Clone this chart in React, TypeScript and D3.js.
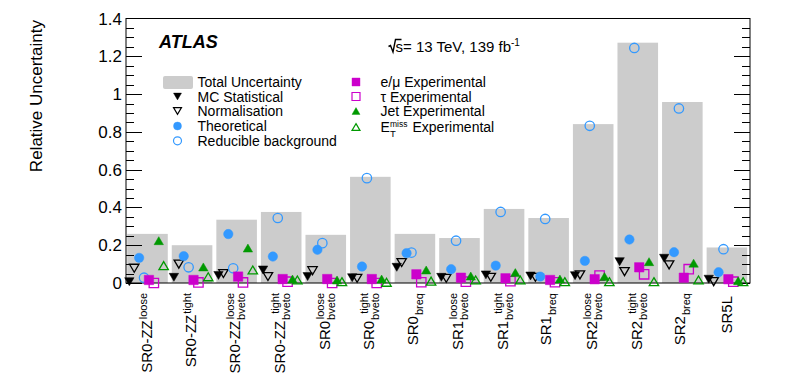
import * as d3 from "d3";
import { useEffect, useRef } from "react";

// signal regions
const labelMain = ["SR0-ZZ", "SR0-ZZ", "SR0-ZZ", "SR0-ZZ", "SR0", "SR0", "SR0", "SR1", "SR1", "SR1", "SR2", "SR2", "SR2", "SR5L"];
const labelSup = ["loose", "tight", "loose", "tight", "loose", "tight", "", "loose", "tight", "", "loose", "tight", "", ""];
const labelSub = ["", "", "bveto", "bveto", "bveto", "bveto", "breq", "bveto", "bveto", "breq", "bveto", "bveto", "breq", ""];

// relative uncertainties per region
const totalUnc = [0.26, 0.2, 0.335, 0.376, 0.255, 0.562, 0.26, 0.238, 0.392, 0.344, 0.841, 1.272, 0.958, 0.188];
const mcStat = [0.007, 0.03, 0.04, 0.069, 0.034, 0.028, 0.083, 0.03, 0.043, 0.037, 0.039, 0.113, 0.131, 0.02];
const normalisation = [0.078, 0.1, 0.05, 0.034, 0.065, 0.025, 0.108, 0.025, 0.03, 0.03, 0.043, 0.06, 0.096, 0.007];
const theoretical = [0.133, 0.142, 0.259, 0.14, 0.176, 0.087, 0.158, 0.073, 0.092, 0.034, 0.117, 0.23, 0.163, 0.057];
const reducible = [0.028, 0.083, 0.078, 0.344, 0.211, 0.555, 0.161, 0.224, 0.376, 0.339, 0.832, 1.244, 0.924, 0.179];
const eMuExp = [0.016, 0.016, 0.034, 0.021, 0.021, 0.021, 0.046, 0.028, 0.025, 0.016, 0.02, 0.083, 0.028, 0.02];
const tauExp = [0.0, 0.003, 0.003, 0.007, 0.0, 0.0, 0.004, 0.007, 0.01, 0.004, 0.039, 0.046, 0.073, 0.007];
const jetExp = [0.224, 0.085, 0.185, 0.021, 0.016, 0.021, 0.069, 0.037, 0.055, 0.021, 0.034, 0.113, 0.105, 0.012];
const metExp = [0.092, 0.033, 0.069, 0.016, 0.007, 0.004, 0.01, 0.016, 0.016, 0.007, 0.007, 0.007, 0.016, 0.007];

const yTicks = [0, 0.2, 0.4, 0.6, 0.8, 1, 1.2, 1.4];

const BLUE = "#3399ff";
const MAGENTA = "#cc00cc";
const GREEN = "#009900";
const FONT = "'Liberation Sans', Arial, Helvetica, sans-serif";

// marker path, centered at 0,0
const markerPath = (shape) => {
  const s = 4.7;
  if (shape === "down") return `M${-s},${-s * 0.85}L${s},${-s * 0.85}L0,${s * 0.85}Z`;
  if (shape === "up") return `M0,${-s * 0.85}L${s},${s * 0.85}L${-s},${s * 0.85}Z`;
  if (shape === "square") return `M${-s},${-s}H${s}V${s}H${-s}Z`;
  return d3.arc()({ innerRadius: 0, outerRadius: s, startAngle: 0, endAngle: 2 * Math.PI });
};

const series = [
  { name: "MC Statistical", values: mcStat, shape: "down", color: "#000", filled: true },
  { name: "Normalisation", values: normalisation, shape: "down", color: "#000", filled: false },
  { name: "Theoretical", values: theoretical, shape: "circle", color: BLUE, filled: true },
  { name: "Reducible background", values: reducible, shape: "circle", color: BLUE, filled: false },
  { name: "e/μ Experimental", values: eMuExp, shape: "square", color: MAGENTA, filled: true },
  { name: "τ Experimental", values: tauExp, shape: "square", color: MAGENTA, filled: false },
  { name: "Jet Experimental", values: jetExp, shape: "up", color: GREEN, filled: true },
  { name: "MET Experimental", values: metExp, shape: "up", color: GREEN, filled: false },
];

const App = () => {
  const ref = useRef(null);

  useEffect(() => {
    const svg = d3.select(ref.current);
    svg.selectAll("*").remove();

    const left = 126, right = 750, top = 18.5, bottom = 283;
    const x = d3.scaleBand().domain(labelMain.map((_, i) => String(i))).range([left, right]).padding(0);
    const y = d3.scaleLinear().domain([0, 1.4]).range([bottom, top]);
    const bw = x.bandwidth();

    // total uncertainty bars
    svg.append("g")
      .selectAll("rect")
      .data(totalUnc)
      .enter()
      .append("rect")
      .attr("x", (d, i) => x(String(i)) + 1.2)
      .attr("y", d => y(d))
      .attr("width", bw - 4)
      .attr("height", d => bottom - y(d))
      .attr("fill", "#cccccc");

    // frame and ticks
    const frame = svg.append("g").attr("stroke", "#000").attr("stroke-width", 1).attr("fill", "none");
    frame.append("rect").attr("x", left).attr("y", top).attr("width", right - left).attr("height", bottom - top);
    d3.range(0, 1.4001, 0.05).forEach((v, k) => {
      const major = k % 4 === 0;
      const len = major ? 16 : 8;
      const yy = Math.round(y(v)) + 0.5;
      frame.append("line").attr("x1", left).attr("x2", left + len).attr("y1", yy).attr("y2", yy);
      frame.append("line").attr("x1", right).attr("x2", right - len).attr("y1", yy).attr("y2", yy);
    });

    // markers
    series.forEach((s, j) => {
      svg.append("g")
        .selectAll("path")
        .data(s.values)
        .enter()
        .append("path")
        .attr("d", markerPath(s.shape))
        .attr("transform", (d, i) => `translate(${x(String(i)) + bw * (0.075 + 0.11 * j)}, ${y(d)})`)
        .attr("fill", s.filled ? s.color : "none")
        .attr("stroke", s.color)
        .attr("stroke-width", s.filled ? 0.5 : 1.3);
    });

    // y tick labels
    svg.append("g")
      .selectAll("text")
      .data(yTicks)
      .enter()
      .append("text")
      .attr("x", left - 4)
      .attr("y", d => y(d) + 6)
      .attr("text-anchor", "end")
      .attr("font-family", FONT)
      .attr("font-size", 17)
      .text(d => d3.format("~g")(d));

    // y title
    svg.append("text")
      .attr("transform", `translate(42, 20) rotate(-90)`)
      .attr("text-anchor", "end")
      .attr("font-family", FONT)
      .attr("font-size", 17)
      .text("Relative Uncertainty");

    // x labels (rotated, with super/subscripts)
    labelMain.forEach((m, i) => {
      const cx = x(String(i)) + bw / 2;
      const sup = labelSup[i], sub = labelSub[i];
      let base = cx + 4;
      if (sup && sub) base = cx + 3;
      else if (sup) base = cx + 3.5;
      else if (sub) base = cx + 2;
      const g = svg.append("g")
        .attr("transform", `translate(${base}, 293) rotate(-90)`)
        .attr("font-family", FONT);
      let w = 0;
      if (sup) {
        const t = g.append("text").attr("x", 0).attr("y", sub ? -6 : -5).attr("text-anchor", "end").attr("font-size", 11).text(sup);
        w = Math.max(w, t.node().getComputedTextLength());
      }
      if (sub) {
        const t = g.append("text").attr("x", 0).attr("y", 5).attr("text-anchor", "end").attr("font-size", 11).text(sub);
        w = Math.max(w, t.node().getComputedTextLength());
      }
      g.append("text")
        .attr("x", w ? -w - 1 : -3)
        .attr("y", 0)
        .attr("text-anchor", "end")
        .attr("font-size", 15)
        .text(m);
    });

    // ATLAS label
    svg.append("text")
      .attr("x", 159)
      .attr("y", 48)
      .attr("font-family", FONT)
      .attr("font-size", 18)
      .attr("font-weight", "bold")
      .attr("font-style", "italic")
      .text("ATLAS");

    // sqrt(s) label
    svg.append("path")
      .attr("d", "M388.5,46.5 L390.5,45.5 L393,52 L395.5,39.5 L401.5,39.5")
      .attr("fill", "none")
      .attr("stroke", "#000")
      .attr("stroke-width", 1.4);
    const en = svg.append("text")
      .attr("x", 395.5)
      .attr("y", 51.5)
      .attr("font-family", FONT)
      .attr("font-size", 15);
    en.append("tspan").text("s= 13 TeV, 139 fb");
    en.append("tspan").attr("dy", -6).attr("font-size", 10).text("-1");

    // legend
    const rowL = [82, 96.5, 111, 126, 140.8];
    const rowR = [82, 96.5, 111, 127];
    const leg = svg.append("g").attr("font-family", FONT).attr("font-size", 14);
    leg.append("rect").attr("x", 163).attr("y", 76).attr("width", 30).attr("height", 13).attr("rx", 2).attr("fill", "#cccccc");
    leg.append("text").attr("x", 197.5).attr("y", rowL[0] + 5).text("Total Uncertainty");
    series.forEach((s, j) => {
      const col = j < 4 ? 0 : 1;
      const yy = col === 0 ? rowL[j + 1] : rowR[j - 4];
      const mx = col === 0 ? 177.5 : 356;
      const tx = col === 0 ? 197.5 : 380.5;
      leg.append("path")
        .attr("d", markerPath(s.shape))
        .attr("transform", `translate(${mx}, ${yy}) scale(0.85)`)
        .attr("fill", s.filled ? s.color : "none")
        .attr("stroke", s.color)
        .attr("stroke-width", s.filled ? 0.5 : 1.4);
      if (j === 7) {
        const t = leg.append("text").attr("x", tx).attr("y", yy + 5);
        t.append("tspan").text("E");
        t.append("tspan").attr("x", tx + 9.5).attr("y", yy + 9.5).attr("font-size", 9.5).text("T");
        t.append("tspan").attr("x", tx + 9.5).attr("y", yy - 0.5).attr("font-size", 8.5).text("miss");
        t.append("tspan").attr("x", tx + 32).attr("y", yy + 5).text("Experimental");
      } else {
        leg.append("text").attr("x", tx).attr("y", yy + 5).text(s.name);
      }
    });
  }, []);

  return (
    <svg
      ref={ref}
      width={789}
      height={377}
      style={{ position: "absolute", left: 0, top: 0, background: "#fff" }}
    />
  );
};

export default App;
